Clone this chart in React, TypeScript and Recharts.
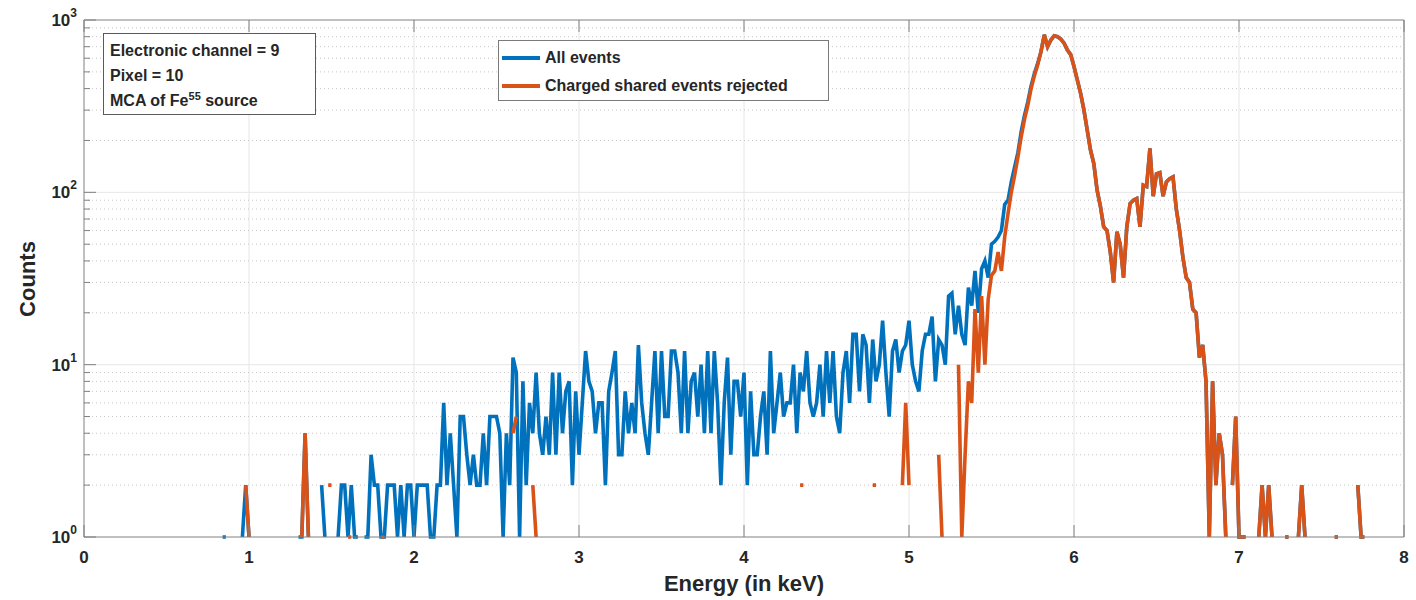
import { LineChart, Line, XAxis, YAxis, CartesianGrid } from 'recharts'

const W = 1416
const H = 600
const BLUE = '#0072BD'
const ORANGE = '#D95319'
const AXIS = '#808080'
const INK = '#262626'
const FONT = '"Liberation Sans", Arial, Helvetica, sans-serif'

// axes box in page pixels (matches margins + axis sizes below)
const LEFT = 84
const RIGHT = 1404
const TOP = 20
const BOTTOM = 537

const _ = null

// MCA bins: 0.02 keV wide starting at 0.80 keV, zero counts are gaps on the log axis
const binStart = 0.8
const binWidth = 0.02

const allEvents = [
  _, _, 1, 1, _, _, _, _, 1, 2, // 0.80
  1, _, _, _, _, _, _, _, _, _, // 1.00
  _, _, _, _, _, 1, 1, 4, 1, _, // 1.20
  _, _, 2, 1, _, _, _, 1, 2, 2, // 1.40
  1, 2, 1, 1, _, 1, 1, 3, 2, 2, // 1.60
  1, 1, 2, 2, 2, 1, 2, 1, 2, 2, // 1.80
  1, 2, 2, 2, 2, 1, 1, 2, 2, 6, // 2.00
  2, 4, 2, 1, 5, 5, 3, 2, 3, 2, // 2.20
  2, 4, 2, 5, 5, 5, 4, 1, 4, 2, // 2.40
  11, 9, 1, 8, 2, 6, 4, 9, 4, 3, // 2.60
  5, 3, 9, 3, 9, 4, 7, 8, 2, 7, // 2.80
  3, 6, 12, 8, 7, 4, 6, 6, 2, 7, // 3.00
  9, 12, 3, 3, 7, 4, 6, 4, 13, 6, // 3.20
  4, 3, 6, 12, 4, 12, 5, 5, 12, 12, // 3.40
  9, 4, 12, 4, 8, 9, 5, 10, 4, 12, // 3.60
  4, 12, 6, 2, 6, 11, 3, 8, 8, 5, // 3.80
  9, 2, 7, 3, 3, 5, 7, 3, 12, 4, // 4.00
  6, 9, 5, 6, 6, 10, 4, 9, 7, 12, // 4.20
  6, 5, 6, 10, 5, 12, 6, 12, 5, 4, // 4.40
  9, 12, 6, 15, 15, 7, 15, 13, 6, 14, // 4.60
  8, 10, 18, 9, 5, 12, 14, 9, 12, 13, // 4.80
  18, 10, 8, 7, 12, 15, 15, 19, 8, 14, // 5.00
  13, 10, 25, 26, 15, 22, 15, 13, 28, 22, // 5.20
  35, 20, 36, 40, 32, 50, 52, 55, 60, 85, // 5.40
  90, 115, 140, 170, 225, 280, 335, 415, 490, 560, // 5.60
  655, 820, 700, 765, 810, 800, 775, 733, 670, 630, // 5.80
  537, 449, 375, 301, 230, 176, 147, 103, 83, 63, // 6.00
  60, 45, 30, 59, 50, 32, 63, 86, 90, 92, // 6.20
  63, 110, 108, 180, 95, 128, 130, 95, 115, 120, // 6.40
  123, 80, 60, 42, 32, 30, 21, 20, 11, 13, // 6.60
  8, 1, 8, 2, 4, 3, 1, _, 2, 5, // 6.80
  1, 1, 1, _, _, _, 1, 2, 1, 2, // 7.00
  1, _, _, _, 1, 1, _, _, 1, 2, // 7.20
  1, _, _, _, _, _, _, _, _, 1, // 7.40
  1, _, _, _, _, _, 2, 1, 1, _, // 7.60
]

const sharedRejected = [
  _, _, _, _, _, _, _, _, _, 2, // 0.80
  1, _, _, _, _, _, _, _, _, _, // 1.00
  _, _, _, _, _, _, 1, 4, 1, _, // 1.20
  _, _, _, _, 2, 2, _, _, _, _, // 1.40
  1, 1, _, _, _, _, _, _, _, _, // 1.60
  1, 1, _, _, _, _, _, _, _, _, // 1.80
  _, _, _, _, _, _, _, _, _, _, // 2.00
  _, _, _, _, _, _, _, _, _, _, // 2.20
  _, _, _, _, _, _, _, _, _, _, // 2.40
  4, 5, _, _, _, _, 2, 1, _, _, // 2.60
  _, _, _, _, _, _, _, _, _, _, // 2.80
  _, _, _, _, _, _, _, _, _, _, // 3.00
  _, _, _, _, _, _, _, _, _, _, // 3.20
  _, _, _, _, _, _, _, _, _, _, // 3.40
  _, _, _, _, _, _, _, _, _, _, // 3.60
  _, _, _, _, _, _, _, _, _, _, // 3.80
  _, _, _, _, _, _, _, _, _, _, // 4.00
  _, _, _, _, _, _, _, 2, 2, _, // 4.20
  _, _, _, _, _, _, _, _, _, _, // 4.40
  _, _, _, _, _, _, _, _, _, 2, // 4.60
  2, _, _, _, _, _, _, _, 2, 6, // 4.80
  2, _, _, _, _, _, _, _, _, 3, // 5.00
  1, _, _, _, _, 10, 1, 3, 8, 6, // 5.20
  21, 9, 25, 10, 24, 33, 35, 45, 35, 55, // 5.40
  75, 100, 125, 160, 210, 265, 320, 400, 475, 550, // 5.60
  655, 820, 700, 765, 810, 800, 775, 733, 670, 630, // 5.80
  537, 449, 375, 301, 230, 176, 147, 103, 83, 63, // 6.00
  60, 45, 30, 59, 50, 32, 63, 86, 90, 92, // 6.20
  63, 110, 108, 180, 95, 128, 130, 95, 115, 120, // 6.40
  123, 80, 60, 42, 32, 30, 21, 20, 11, 13, // 6.60
  8, 1, 8, 2, 4, 3, 1, _, 2, 5, // 6.80
  1, 1, 1, _, _, _, 1, 2, 1, 2, // 7.00
  1, _, _, _, 1, 1, _, _, 1, 2, // 7.20
  1, _, _, _, _, _, _, _, _, 1, // 7.40
  1, _, _, _, _, _, 2, 1, 1, _, // 7.60
]

const energyTicks = [0, 1, 2, 3, 4, 5, 6, 7, 8]
const gridEnergies = [1, 2, 3, 4, 5, 6, 7]
const decades = [1, 10, 100, 1000]
const minorCounts = [
  2, 3, 4, 5, 6, 7, 8, 9,
  20, 30, 40, 50, 60, 70, 80, 90,
  200, 300, 400, 500, 600, 700, 800, 900,
]
const countTicks = [...decades, ...minorCounts]

const data = allEvents.map((v, i) => ({
  energy: Math.round((binStart + i * binWidth) * 100) / 100,
  all: v,
  rejected: sharedRejected[i],
}))

const isDecade = (v: number) => decades.includes(v)

// MATLAB style: ticks point into the axes box
function LeftTick({ y, payload }: any) {
  const v = payload.value
  const major = isDecade(v)
  return (
    <g>
      <line x1={LEFT} x2={LEFT + (major ? 12 : 6)} y1={y} y2={y} stroke={AXIS} />
      {major && (
        <text x={LEFT - 7} y={y + 6} textAnchor="end" fill={INK} fontSize={17} fontWeight="bold" fontFamily={FONT}>
          <tspan>10</tspan>
          <tspan dy={-9} fontSize={12}>{Math.round(Math.log10(v))}</tspan>
        </text>
      )}
    </g>
  )
}

function RightTick({ y, payload }: any) {
  const len = isDecade(payload.value) ? 12 : 6
  return <line x1={RIGHT} x2={RIGHT - len} y1={y} y2={y} stroke={AXIS} />
}

function BottomTick({ x, payload }: any) {
  return (
    <g>
      <line x1={x} x2={x} y1={BOTTOM} y2={BOTTOM - 12} stroke={AXIS} />
      <text x={x} y={BOTTOM + 26} textAnchor="middle" fill={INK} fontSize={17} fontWeight="bold" fontFamily={FONT}>
        {payload.value}
      </text>
    </g>
  )
}

function TopTick({ x }: any) {
  return <line x1={x} x2={x} y1={TOP} y2={TOP + 12} stroke={AXIS} />
}

const boxText = { fontFamily: FONT, fontWeight: 'bold' as const, fontSize: 16, color: INK }

export default function App() {
  return (
    <div style={{ position: 'relative', width: W, height: H, background: '#fff' }}>
      <style>{'body{margin:0}'}</style>
      <LineChart
        width={W}
        height={H}
        data={data}
        margin={{ top: 10, right: 2, bottom: 33, left: 24 }}
        style={{ fontFamily: FONT }}
      >
        <CartesianGrid stroke="#e6e6e6" horizontalValues={[10, 100]} verticalValues={gridEnergies} />
        <CartesianGrid stroke="#c8c8c8" strokeDasharray="1 3" vertical={false} horizontalValues={minorCounts} />
        <XAxis
          dataKey="energy"
          type="number"
          domain={[0, 8]}
          ticks={energyTicks}
          interval={0}
          height={30}
          tickSize={0}
          tickMargin={0}
          tickLine={false}
          axisLine={{ stroke: AXIS }}
          tick={<BottomTick />}
        />
        <XAxis
          xAxisId="top"
          orientation="top"
          dataKey="energy"
          type="number"
          domain={[0, 8]}
          ticks={energyTicks}
          interval={0}
          height={10}
          tickSize={0}
          tickMargin={0}
          tickLine={false}
          axisLine={{ stroke: AXIS }}
          tick={<TopTick />}
        />
        <YAxis
          scale="log"
          type="number"
          domain={[1, 1000]}
          ticks={countTicks}
          interval={0}
          width={60}
          tickSize={0}
          tickMargin={0}
          tickLine={false}
          axisLine={{ stroke: AXIS }}
          tick={<LeftTick />}
        />
        <YAxis
          yAxisId="right"
          orientation="right"
          scale="log"
          type="number"
          domain={[1, 1000]}
          ticks={countTicks}
          interval={0}
          width={10}
          tickSize={0}
          tickMargin={0}
          tickLine={false}
          axisLine={{ stroke: AXIS }}
          tick={<RightTick />}
        />
        <Line
          dataKey="all"
          stroke={BLUE}
          strokeWidth={3.6}
          dot={false}
          activeDot={false}
          connectNulls={false}
          isAnimationActive={false}
        />
        <Line
          dataKey="rejected"
          stroke={ORANGE}
          strokeWidth={3.6}
          dot={false}
          activeDot={false}
          connectNulls={false}
          isAnimationActive={false}
        />
      </LineChart>

      {/* annotation box */}
      <div
        style={{
          ...boxText,
          position: 'absolute',
          left: 103,
          top: 33,
          width: 213,
          height: 82,
          boxSizing: 'border-box',
          border: '1px solid #5a5a5a',
          background: '#fff',
          padding: '4px 0 0 6px',
          lineHeight: '25px',
        }}
      >
        <div>Electronic channel = 9</div>
        <div>Pixel = 10</div>
        <div>
          MCA of Fe<sup style={{ fontSize: 11, lineHeight: 0 }}>55</sup> source
        </div>
      </div>

      {/* legend */}
      <div
        style={{
          ...boxText,
          position: 'absolute',
          left: 498,
          top: 40,
          width: 331,
          height: 61,
          boxSizing: 'border-box',
          border: '1px solid #7a7a7a',
          background: '#fff',
          padding: '3px 0 0 3px',
        }}
      >
        {[
          { label: 'All events', color: BLUE },
          { label: 'Charged shared events rejected', color: ORANGE },
        ].map((s) => (
          <div key={s.label} style={{ display: 'flex', alignItems: 'center', height: 28 }}>
            <span style={{ width: 38, height: 4, background: s.color, marginRight: 5 }} />
            <span>{s.label}</span>
          </div>
        ))}
      </div>

      {/* axis titles */}
      <div
        style={{
          position: 'absolute',
          left: LEFT,
          width: RIGHT - LEFT,
          top: 571,
          textAlign: 'center',
          fontFamily: FONT,
          fontWeight: 'bold',
          fontSize: 22,
          color: INK,
        }}
      >
        Energy (in keV)
      </div>
      <div
        style={{
          position: 'absolute',
          left: 28,
          top: (TOP + BOTTOM) / 2,
          transform: 'translate(-50%, -50%) rotate(-90deg)',
          fontFamily: FONT,
          fontWeight: 'bold',
          fontSize: 22,
          color: INK,
          whiteSpace: 'nowrap',
        }}
      >
        Counts
      </div>
    </div>
  )
}
